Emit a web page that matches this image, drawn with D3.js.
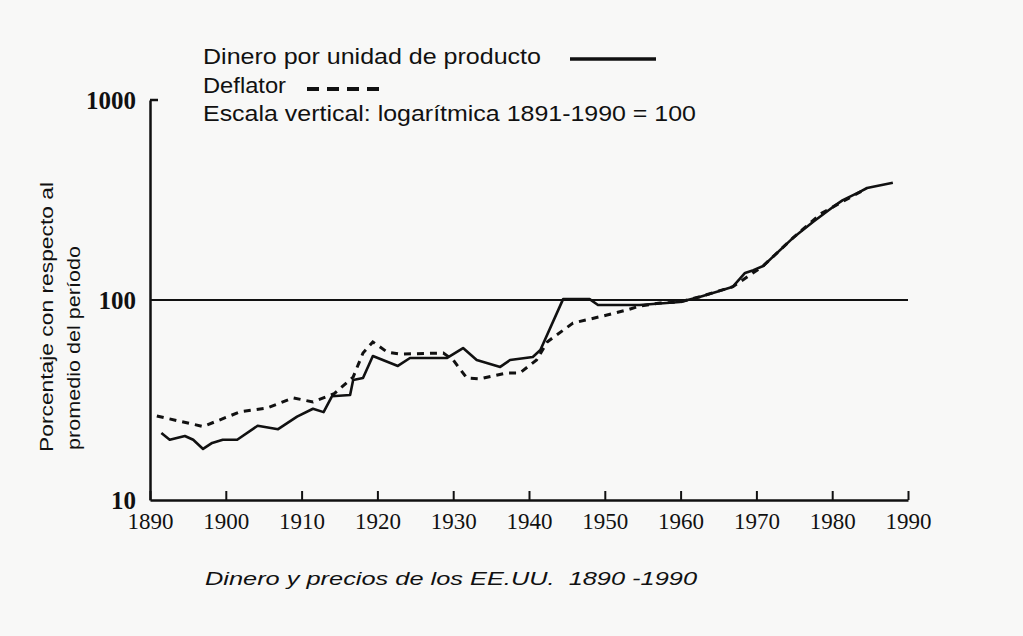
<!DOCTYPE html>
<html>
<head>
<meta charset="utf-8">
<script src="https://cdn.jsdelivr.net/npm/d3@7/dist/d3.min.js"></script>
<style>
  body { margin: 0; background: #f8f8f7; }
  svg { display: block; }
</style>
</head>
<body>
<div id="chart-area"></div>
<script>
// money per unit of product (solid line)
const moneyYears  = [1891.5, 1892.6, 1894.6, 1895.7, 1897, 1898.2, 1899.6, 1901.5, 1904.2, 1906.9,
                     1909.4, 1911.5, 1912.9, 1914, 1916.4, 1916.8, 1918.1, 1919.4, 1922.7, 1924.3,
                     1929.2, 1931.3, 1933.1, 1936.2, 1937.5, 1940.5, 1941.5, 1944.5, 1948, 1949.1,
                     1954.6, 1959.9, 1962.6, 1964.8, 1966.9, 1968.5, 1969.6, 1970.9, 1972.2, 1974.8,
                     1977.5, 1980.1, 1981.4, 1983.7, 1984.6, 1985.4, 1988];
const moneyValues = [21.6, 20.0, 20.9, 20.0, 18.0, 19.3, 20.0, 20.0, 23.5, 22.6,
                     26.1, 28.6, 27.5, 33.0, 33.5, 39.8, 40.7, 52.5, 46.8, 51.3,
                     51.3, 57.5, 50.1, 46.3, 50.1, 51.9, 56.2, 101, 101, 94.4,
                     94.4, 97.7, 103.9, 110, 116.6, 136.5, 141, 148, 164.7, 204,
                     246, 292, 316, 348, 363, 368, 386];

// deflator (dashed line)
const deflYears  = [1890.9, 1897, 1901.9, 1905.4, 1908.9, 1911.5, 1914.3, 1916.8, 1918.1, 1919.4,
                    1921.3, 1923, 1928.7, 1930, 1931.8, 1933.5, 1937.1, 1938.8, 1941, 1942.4,
                    1945.8, 1950.3, 1952.9, 1954.6, 1957.3, 1959.9, 1962.6, 1966.9, 1970.9, 1974.8,
                    1978.5, 1981, 1984];
const deflValues = [26.3, 23.3, 27.6, 28.8, 32.4, 30.9, 34.0, 41.2, 54.3, 61.7,
                    54.9, 53.7, 54.3, 50.1, 40.7, 40.3, 43.2, 43.2, 50.1, 61.7,
                    76.7, 84.1, 89.1, 93.3, 96.6, 97.7, 103.9, 116.6, 148, 204,
                    270, 305, 352];

const xTicks = [1890, 1900, 1910, 1920, 1930, 1940, 1950, 1960, 1970, 1980, 1990];
const yTicks = [10, 100, 1000];

const legendLabels = ["Dinero por unidad de producto", "Deflator",
                      "Escala vertical: logarítmica 1891-1990 = 100"];
const yLabelLines = ["Porcentaje con respecto al", "promedio del período"];
const caption = "Dinero y precios de los EE.UU.  1890 -1990";

const svg = d3.select("#chart-area").append("svg")
    .attr("width", 1023)
    .attr("height", 636);

const x = d3.scaleLinear().domain([1890, 1990]).range([150, 908]);
const y = d3.scaleLog().domain([10, 1000]).range([500, 100]);

// x axis, ticks pointing up
const xAxis = svg.append("g")
    .attr("transform", `translate(0,${y(10)})`)
    .call(d3.axisBottom(x).tickValues(xTicks).tickFormat(d3.format("d"))
        .tickSizeInner(-9).tickSizeOuter(0));
xAxis.select(".domain").attr("stroke", "#111").attr("stroke-width", 2.5);
xAxis.selectAll(".tick line").attr("stroke", "#111").attr("stroke-width", 2);
xAxis.selectAll(".tick text")
    .attr("y", 29).attr("dy", 0)
    .attr("fill", "#111")
    .attr("font-family", "Liberation Serif")
    .attr("font-size", "23px");

// y axis
const yAxis = svg.append("g")
    .attr("transform", `translate(${x(1890)},0)`)
    .call(d3.axisLeft(y).tickValues(yTicks).tickFormat(d3.format("d"))
        .tickSize(0).tickPadding(14));
yAxis.select(".domain").attr("stroke", "#111").attr("stroke-width", 2.5);
yAxis.selectAll(".tick text")
    .attr("dy", "0.33em")
    .attr("fill", "#111")
    .attr("font-family", "Liberation Serif")
    .attr("font-weight", "bold")
    .attr("font-size", "25px");

// little stub at the top of the y axis
svg.append("line")
    .attr("x1", x(1890)).attr("x2", x(1890) + 8)
    .attr("y1", y(1000)).attr("y2", y(1000))
    .attr("stroke", "#111").attr("stroke-width", 2.5);

// reference line at 100
svg.append("line")
    .attr("x1", x(1890)).attr("x2", x(1990))
    .attr("y1", y(100)).attr("y2", y(100))
    .attr("stroke", "#111").attr("stroke-width", 1.8);

const line = d3.line().x(d => x(d[0])).y(d => y(d[1]));

svg.append("path")
    .datum(d3.zip(deflYears, deflValues))
    .attr("d", line)
    .attr("fill", "none")
    .attr("stroke", "#111")
    .attr("stroke-width", 3)
    .attr("stroke-dasharray", "7,6");

svg.append("path")
    .datum(d3.zip(moneyYears, moneyValues))
    .attr("d", line)
    .attr("fill", "none")
    .attr("stroke", "#111")
    .attr("stroke-width", 2.6)
    .attr("stroke-linejoin", "round");

// legend
const legendY = [64, 93, 121];
const legendLen = [338, 83, 493];
legendLabels.forEach((t, i) => {
    svg.append("text")
        .attr("x", 203).attr("y", legendY[i])
        .attr("font-family", "Liberation Sans")
        .attr("font-size", "22px")
        .attr("fill", "#111")
        .attr("textLength", legendLen[i])
        .attr("lengthAdjust", "spacingAndGlyphs")
        .text(t);
});
svg.append("line")
    .attr("x1", 570).attr("x2", 656).attr("y1", 59).attr("y2", 59)
    .attr("stroke", "#111").attr("stroke-width", 3.5);
svg.append("line")
    .attr("x1", 307).attr("x2", 380).attr("y1", 89).attr("y2", 89)
    .attr("stroke", "#111").attr("stroke-width", 4)
    .attr("stroke-dasharray", "12,8");

// rotated y label, two lines
const yLabX = [53, 80];
const yLabStart = [452, 450];
const yLabLen = [270, 204];
yLabelLines.forEach((t, i) => {
    svg.append("text")
        .attr("transform", `translate(${yLabX[i]},${yLabStart[i]}) rotate(-90)`)
        .attr("font-family", "Liberation Sans")
        .attr("font-size", "19px")
        .attr("fill", "#111")
        .attr("textLength", yLabLen[i])
        .attr("lengthAdjust", "spacingAndGlyphs")
        .text(t);
});

// caption
svg.append("text")
    .attr("x", 205).attr("y", 585)
    .attr("font-family", "Liberation Sans")
    .attr("font-style", "italic")
    .attr("font-size", "19px")
    .attr("fill", "#111")
    .attr("textLength", 492)
    .attr("lengthAdjust", "spacingAndGlyphs")
    .style("white-space", "pre")
    .text(caption);
</script>
</body>
</html>
